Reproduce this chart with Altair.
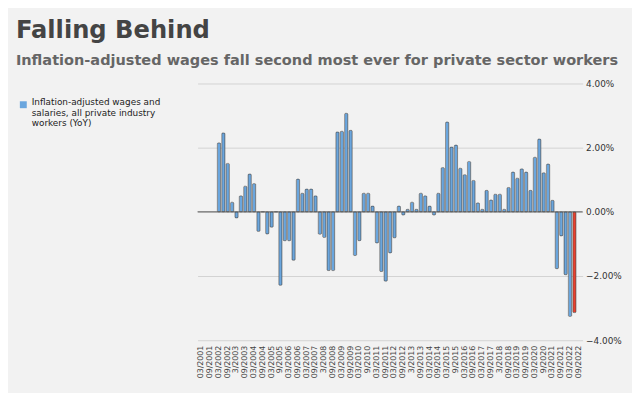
import altair as alt
import pandas as pd

quarters = [
    "03/2001", "06/2001", "09/2001", "12/2001",
    "03/2002", "06/2002", "09/2002", "12/2002",
    "3/2003", "06/2003", "09/2003", "12/2003",
    "03/2004", "06/2004", "09/2004", "12/2004",
    "03/2005", "06/2005", "9/2005", "12/2005",
    "03/2006", "06/2006", "09/2006", "12/2006",
    "03/2007", "06/2007", "09/2007", "12/2007",
    "3/2008", "06/2008", "09/2008", "12/2008",
    "03/2009", "06/2009", "09/2009", "12/2009",
    "03/2010", "06/2010", "9/2010", "12/2010",
    "03/2011", "06/2011", "09/2011", "12/2011",
    "03/2012", "06/2012", "09/2012", "12/2012",
    "3/2013", "06/2013", "09/2013", "12/2013",
    "03/2014", "06/2014", "09/2014", "12/2014",
    "03/2015", "06/2015", "9/2015", "12/2015",
    "03/2016", "06/2016", "09/2016", "12/2016",
    "03/2017", "06/2017", "09/2017", "12/2017",
    "3/2018", "06/2018", "09/2018", "12/2018",
    "03/2019", "06/2019", "09/2019", "12/2019",
    "03/2020", "06/2020", "9/2020", "12/2020",
    "03/2021", "06/2021", "09/2021", "12/2021",
    "03/2022", "06/2022", "09/2022",
]

wage_yoy = [
    None, None, None, None,
    2.15, 2.46, 1.51, 0.30,
    -0.19, 0.50, 0.80, 1.18,
    0.88, -0.61, 0.00, -0.69,
    -0.48, 0.00, -2.29, -0.90,
    -0.90, -1.51, 1.02, 0.58,
    0.71, 0.71, 0.50, -0.70,
    -0.80, -1.83, -1.83, 2.49,
    2.51, 3.07, 2.54, -1.36,
    -0.90, 0.58, 0.58, 0.18,
    -0.97, -1.86, -2.16, -1.28,
    -0.81, 0.18, -0.10, 0.08,
    0.30, 0.08, 0.58, 0.50,
    0.18, -0.10, 0.58, 1.38,
    2.80, 2.02, 2.08, 1.36,
    1.16, 1.57, 0.98, 0.28,
    0.08, 0.67, 0.37, 0.55,
    0.55, 0.08, 0.76, 1.24,
    1.05, 1.34, 1.24, 0.67,
    1.70, 2.27, 1.22, 1.49,
    0.36, -1.77, -0.75, -1.96,
    -3.26, -3.14, None,
]

series_name = "Inflation-adjusted wages and salaries, all private industry workers (YoY)"
latest = "06/2022"
tick_labels = quarters[0::2]
y_ticks = [-4, -2, 0, 2, 4]

df = pd.DataFrame({"quarter": quarters, "value": wage_yoy})
df["series"] = series_name
df["latest"] = df["quarter"] == latest

BLUE = "#6aa6de"
RED = "#e8412f"

x_enc = alt.X(
    "quarter:N",
    sort=None,
    scale=alt.Scale(domain=quarters, paddingInner=0.25, paddingOuter=0.5),
    axis=alt.Axis(
        values=tick_labels,
        title=None,
        labelAngle=-90,
        labelFont="DejaVu Sans",
        labelFontSize=8,
        labelColor="#444444",
        labelPadding=5,
        ticks=False,
        domain=False,
        grid=False,
        labelOverlap=False,
    ),
)

y_enc = alt.Y(
    "value:Q",
    scale=alt.Scale(domain=[-4, 4], nice=False, zero=True),
    axis=alt.Axis(
        orient="right",
        values=y_ticks,
        title=None,
        labelExpr="format(datum.value, '.2f') + '%'",
        labelFont="DejaVu Sans",
        labelFontSize=9,
        labelColor="#333333",
        labelPadding=3,
        ticks=False,
        domain=False,
        grid=True,
        gridColor="#d2d2d2",
        gridWidth=1,
    ),
)

bars = alt.Chart(df).mark_bar(stroke="#4d4d4d", strokeWidth=0.5, cornerRadius=1).encode(
    x=x_enc,
    y=y_enc,
    color=alt.condition(
        "datum.latest",
        alt.value(RED),
        alt.Color(
            "series:N",
            scale=alt.Scale(domain=[series_name], range=[BLUE]),
            legend=alt.Legend(
                title=None,
                orient="none",
                legendX=-181,
                legendY=17,
                symbolType="square",
                symbolSize=49,
                symbolStrokeWidth=0,
                labelFont="DejaVu Sans",
                labelFontSize=9,
                labelColor="#222222",
                labelBaseline="alphabetic",
                labelLimit=300,
                labelExpr="['Inflation-adjusted wages and', 'salaries, all private industry', 'workers (YoY)']",
            ),
        ),
    ),
)

zero = alt.Chart(pd.DataFrame({"y": [0]})).mark_rule(color="#555555", strokeWidth=1).encode(
    y=alt.Y("y:Q")
)

chart = (
    alt.layer(bars, zero)
    .properties(
        width=390,
        height=260,
        autosize=alt.AutoSizeParams(type="none"),
        padding={"left": 192, "top": 74, "right": 50, "bottom": 51},
        background="#f2f2f2",
        title=alt.TitleParams(
            text="Falling Behind",
            subtitle="Inflation-adjusted wages fall second most ever for private sector workers",
            anchor="start",
            frame="group",
            dx=-184,
            offset=11,
            font="DejaVu Sans",
            fontSize=24.5,
            fontWeight="bold",
            color="#444444",
            subtitleFont="DejaVu Sans",
            subtitleFontSize=14.7,
            subtitleFontWeight="bold",
            subtitleColor="#666666",
            subtitlePadding=10,
        ),
    )
    .configure_view(stroke=None)
)

chart.save("out.html", embed_options={"renderer": "svg", "actions": False})
